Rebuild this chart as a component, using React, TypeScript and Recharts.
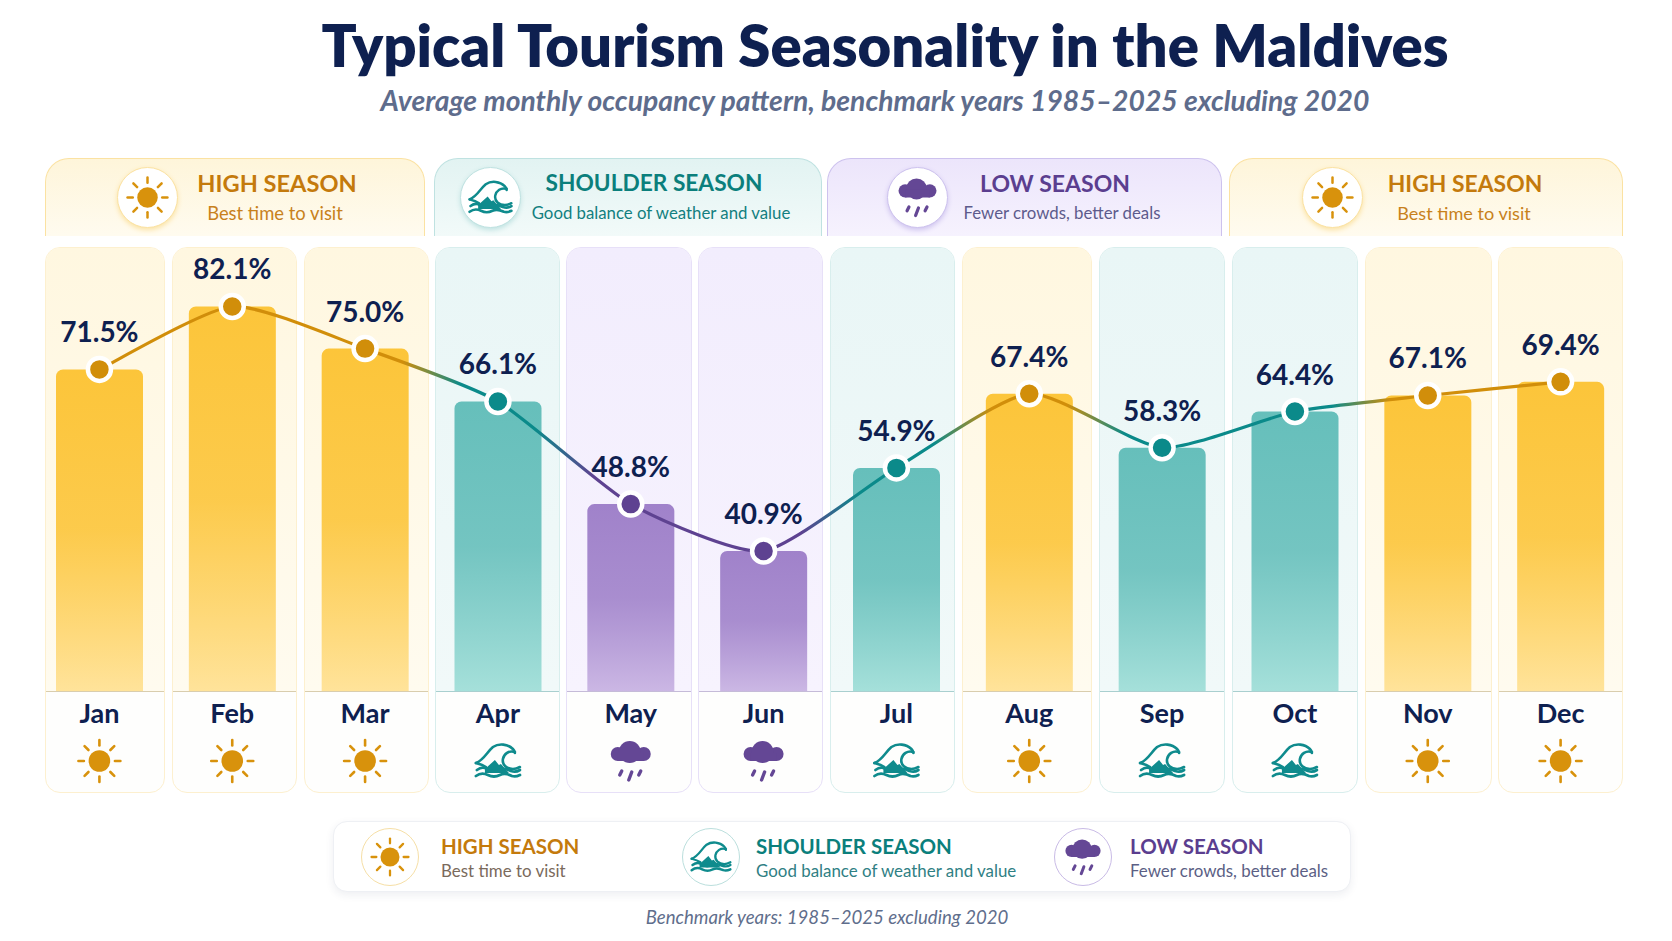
import { ComposedChart, Bar, Line, Cell, XAxis, YAxis, LabelList } from "recharts";

const months = ["Jan", "Feb", "Mar", "Apr", "May", "Jun", "Jul", "Aug", "Sep", "Oct", "Nov", "Dec"];
const occupancy = [71.5, 82.1, 75.0, 66.1, 48.8, 40.9, 54.9, 67.4, 58.3, 64.4, 67.1, 69.4];
const monthSeason = ["high", "high", "high", "shoulder", "low", "low", "shoulder", "high", "shoulder", "shoulder", "high", "high"];

const seasonTitles = { high: "HIGH SEASON", shoulder: "SHOULDER SEASON", low: "LOW SEASON" };
const seasonNotes = { high: "Best time to visit", shoulder: "Good balance of weather and value", low: "Fewer crowds, better deals" };

const chartData = months.map((month, i) => ({ month, occupancy: occupancy[i], season: monthSeason[i] }));

// palette per season
const theme: any = {
  high: { dot: "#D18E0A", icon: "#D8920C", title: "#C47A0C", note: "#C8811C", legendNote: "#7A6A5C", barTop: "#FCC53A", barBottom: "#FFE39A", bandTop: "#FEF5DA", bandBottom: "#FFFBEF", bandBorder: "#FBE2A2", cardTop: "#FFF7E0", cardBottom: "#FFFBEF", cardBorder: "#FDF0CF", baseline: "#D9CDAE", legendRing: "#F6DFA6" },
  shoulder: { dot: "#0B8A8A", icon: "#0F8B8D", title: "#0B7F7C", note: "#127F80", legendNote: "#2F8084", barTop: "#66BFBB", barBottom: "#A5E0DA", bandTop: "#E2F3F2", bandBottom: "#F2FAF9", bandBorder: "#BFE2E1", cardTop: "#E9F6F6", cardBottom: "#F1F9F9", cardBorder: "#D8EEED", baseline: "#A9CFCF", legendRing: "#BBDFDD" },
  low: { dot: "#5E4291", icon: "#644795", title: "#5B3E8F", note: "#5D5B8C", legendNote: "#5C5F85", barTop: "#A082CA", barBottom: "#CBB7E4", bandTop: "#ECE5FB", bandBottom: "#F6F2FE", bandBorder: "#CDC2EE", cardTop: "#F2EDFD", cardBottom: "#F7F3FE", cardBorder: "#E7E0F8", baseline: "#C5BBD8", legendRing: "#C9BBE6" },
};

// page layout, in px
const cardEdges = [[45, 165], [172, 297], [304, 429], [435, 560], [566, 692], [698, 823], [830, 955], [962, 1092], [1099, 1225], [1232, 1358], [1365, 1492], [1498, 1623]];
const bands = [
  { season: "high", left: 45, right: 425, icon: 147, titleX: 277, noteX: 275, titleSize: 23.6, noteSize: 18.4 },
  { season: "shoulder", left: 434, right: 822, icon: 490, titleX: 654, noteX: 661, titleSize: 22.7, noteSize: 16.8 },
  { season: "low", left: 827, right: 1222, icon: 917, titleX: 1055, noteX: 1062, titleSize: 23, noteSize: 16.8 },
  { season: "high", left: 1229, right: 1623, icon: 1332, titleX: 1465, noteX: 1464, titleSize: 22.9, noteSize: 18.1 },
];
const legendItems = [
  { season: "high", icon: 390, text: 441 },
  { season: "shoulder", icon: 711, text: 756 },
  { season: "low", icon: 1083, text: 1130 },
];

const font = "Lato, 'Noto Sans', sans-serif";
const PLOT_BOTTOM = 691;
const CARD_TOP = 247;
const CARD_BOTTOM = 793;

// a gentler curve than monotone: close to straight, only rounded near the points
const softCurve = (ctx: any) => {
  let pts: number[][] = [];
  return {
    areaStart() {},
    areaEnd() {},
    lineStart() {
      pts = [];
    },
    point(x: number, y: number) {
      pts.push([x, y]);
    },
    lineEnd() {
      const k = 0.1;
      ctx.moveTo(pts[0][0], pts[0][1]);
      for (let i = 0; i < pts.length - 1; i++) {
        const a = pts[Math.max(i - 1, 0)];
        const b = pts[i];
        const c = pts[i + 1];
        const d = pts[Math.min(i + 2, pts.length - 1)];
        ctx.bezierCurveTo(b[0] + (c[0] - a[0]) * k, b[1] + (c[1] - a[1]) * k, c[0] - (d[0] - b[0]) * k, c[1] - (d[1] - b[1]) * k, c[0], c[1]);
      }
    },
  };
};

const SeasonIcon = ({ season, x = 0, y = 0, scale = 1 }: any) => {
  const c = theme[season].icon;
  return (
    <g transform={`translate(${x},${y}) scale(${scale})`}>
      {season === "high" && (
        <>
          <circle r={10.8} fill={c} />
          {[0, 45, 90, 135, 180, 225, 270, 315].map((a) => (
            <line key={a} x1={0} y1={-15.5} x2={0} y2={-21} stroke={c} strokeWidth={2.6} strokeLinecap="round" transform={`rotate(${a})`} />
          ))}
        </>
      )}
      {season === "shoulder" && (
        <g fill="none" stroke={c} strokeLinecap="round">
          <path d="M-22,2 C-14,-1 -11,-9 -5,-14 C1,-18 10,-17 15,-12 C16,-11 17,-9 17,-8" strokeWidth={2.6} />
          <path d="M17,-9 C11,-11 6,-7 5,-2 C4,4 9,8 15,8 C18,8 20,7 22,6" strokeWidth={2.6} />
          <path d="M-22,2 C-18,3 -15,4 -12,6" strokeWidth={2.6} />
          <path d="M-13,8 L-3,-1 L1,4 L3,3 L11,12 L-13,12 Z" fill={c} stroke="none" />
          <path d="M-21,9 C-17,6 -14,6 -11,8 C-7,11 -3,11 1,9 C5,7 9,8 13,10 C16,11 19,11 22,9" strokeWidth={2.8} />
          <path d="M-22,15 C-18,12 -14,12 -10,14 C-6,16 -2,16 2,14 C6,12 10,13 14,15 C17,16 20,15 22,14" strokeWidth={2.8} />
        </g>
      )}
      {season === "low" && (
        <>
          <circle cx={-13} cy={-7} r={7} fill={c} />
          <circle cx={13} cy={-7} r={7} fill={c} />
          <circle cx={-1} cy={-9} r={11} fill={c} />
          <rect x={-13} y={-8} width={26} height={8} fill={c} />
          <line x1={-9} y1={10} x2={-11} y2={14} stroke={c} strokeWidth={3.4} strokeLinecap="round" />
          <line x1={1} y1={11} x2={-2} y2={19} stroke={c} strokeWidth={3.4} strokeLinecap="round" />
          <line x1={10} y1={10} x2={8} y2={14} stroke={c} strokeWidth={3.4} strokeLinecap="round" />
        </>
      )}
    </g>
  );
};

const IconDisc = ({ season, cx, cy, d, ring, scale = 1 }: any) => (
  <div style={{ position: "absolute", left: cx - d / 2, top: cy - d / 2, width: d, height: d, borderRadius: "50%", background: "#FFFFFF", boxSizing: "border-box", border: `${ring ? 1.5 : 1}px solid ${ring ? theme[season].legendRing : theme[season].bandBorder}`, boxShadow: ring ? "none" : `0 2px 5px ${theme[season].bandBorder}` }}>
    <svg width={d} height={d} style={{ position: "absolute", left: ring ? -1.5 : -1, top: ring ? -1.5 : -1 }}>
      <SeasonIcon season={season} x={d / 2} y={d / 2} scale={scale} />
    </svg>
  </div>
);

const MonthTick = ({ x, payload, index }: any) => (
  <g>
    <text x={x} y={PLOT_BOTTOM + 32} textAnchor="middle" fontFamily={font} fontSize={27} fontWeight={700} fill="#0E2050">{payload.value}</text>
    <SeasonIcon season={monthSeason[index]} x={x} y={PLOT_BOTTOM + 70} />
  </g>
);

const MonthDot = ({ cx, cy, index }: any) => (
  <circle key={index} cx={cx} cy={cy} r={11.5} fill={theme[monthSeason[index]].dot} stroke="#FFFFFF" strokeWidth={4.5} />
);

export default function App() {
  // colour holds around each month and only blends near the gap between two seasons
  const stops = months.flatMap((_, i) => [
    { offset: `${Math.max(0, ((i - 0.28) / 11) * 100)}%`, color: theme[monthSeason[i]].dot },
    { offset: `${Math.min(100, ((i + 0.28) / 11) * 100)}%`, color: theme[monthSeason[i]].dot },
  ]);
  return (
    <div style={{ position: "absolute", left: 0, top: 0, width: 1672, height: 941, background: "#FFFFFF", fontFamily: font, overflow: "hidden" }}>
      <div style={{ position: "absolute", left: 0, width: 1770, top: 7, textAlign: "center", fontSize: 58, fontWeight: 800, color: "#0E2050", lineHeight: "76px", whiteSpace: "nowrap" }}>
        Typical Tourism Seasonality in the Maldives
      </div>
      <div style={{ position: "absolute", left: 0, width: 1750, top: 83, textAlign: "center", fontSize: 28.3, fontWeight: 700, fontStyle: "italic", color: "#5E6C8C", lineHeight: "34px", whiteSpace: "nowrap" }}>
        Average monthly occupancy pattern, benchmark years 1985–2025 excluding 2020
      </div>

      {bands.map((b) => {
        const t = theme[b.season];
        return (
          <div key={b.left}>
            <div style={{ position: "absolute", left: b.left, top: 158, width: b.right - b.left, height: 78, boxSizing: "border-box", borderRadius: "24px 24px 0 0", background: `linear-gradient(${t.bandTop}, ${t.bandBottom})`, border: `1.5px solid ${t.bandBorder}`, borderBottom: "none" }} />
            <IconDisc season={b.season} cx={b.icon} cy={197} d={61} scale={0.95} />
            <div style={{ position: "absolute", left: b.titleX - 200, width: 400, top: 167, textAlign: "center", fontSize: b.titleSize, fontWeight: 700, color: t.title, lineHeight: "32px" }}>{seasonTitles[b.season]}</div>
            <div style={{ position: "absolute", left: b.noteX - 200, width: 400, top: 201, textAlign: "center", fontSize: b.noteSize, color: t.note, lineHeight: "24px" }}>{seasonNotes[b.season]}</div>
          </div>
        );
      })}

      {cardEdges.map(([l, r], i) => {
        const t = theme[monthSeason[i]];
        return (
          <div key={l} style={{ position: "absolute", left: l, top: CARD_TOP, width: r - l, height: CARD_BOTTOM - CARD_TOP, boxSizing: "border-box", borderRadius: 15, border: `1.5px solid ${t.cardBorder}`, background: "#FEFEFD", overflow: "hidden" }}>
            <div style={{ position: "absolute", left: 0, right: 0, top: 0, height: PLOT_BOTTOM - CARD_TOP - 1, background: `linear-gradient(${t.cardTop}, ${t.cardBottom})`, borderBottom: `1.5px solid ${t.baseline}` }} />
          </div>
        );
      })}

      <div style={{ position: "absolute", left: 0, top: 0 }}>
        <ComposedChart width={1672} height={941} data={chartData} margin={{ top: 243, right: 45, bottom: 140, left: 33 }}>
          <defs>
            {Object.keys(theme).map((s) => (
              <linearGradient key={s} id={`bar-${s}`} x1="0" y1="0" x2="0" y2="1">
                <stop offset="0%" stopColor={theme[s].barTop} />
                <stop offset="50%" stopColor={theme[s].barTop} stopOpacity={0.9} />
                <stop offset="100%" stopColor={theme[s].barBottom} />
              </linearGradient>
            ))}
            <linearGradient id="trend" x1="0" y1="0" x2="1" y2="0">
              {stops.map((s, i) => (
                <stop key={i} offset={s.offset} stopColor={s.color} />
              ))}
            </linearGradient>
          </defs>
          <XAxis dataKey="month" height={110} axisLine={false} tickLine={false} tick={MonthTick} interval={0} />
          <YAxis hide domain={[17.3, 92.8]} />
          <Bar dataKey="occupancy" barSize={87} radius={[7, 7, 0, 0]} isAnimationActive={false}>
            {chartData.map((d) => (
              <Cell key={d.month} fill={`url(#bar-${d.season})`} />
            ))}
          </Bar>
          <Line type={softCurve as any} dataKey="occupancy" stroke="url(#trend)" strokeWidth={3.2} dot={MonthDot} activeDot={false} isAnimationActive={false}>
            <LabelList dataKey="occupancy" position="top" offset={27} formatter={(v: number) => `${v.toFixed(1)}%`} style={{ fontFamily: font, fontSize: 28, fontWeight: 700, fill: "#0E2050" }} />
          </Line>
        </ComposedChart>
      </div>

      <div style={{ position: "absolute", left: 333, top: 821, width: 1018, height: 71, background: "#FFFFFF", borderRadius: 14, border: "1px solid #EEF0F4", boxSizing: "border-box", boxShadow: "0 3px 8px rgba(40,50,90,0.08)" }} />
      {legendItems.map((item) => (
        <div key={item.season}>
          <IconDisc season={item.season} cx={item.icon} cy={857} d={58} ring scale={0.88} />
          <div style={{ position: "absolute", left: item.text, top: 833, fontSize: 20.5, fontWeight: 700, color: theme[item.season].title, whiteSpace: "nowrap", lineHeight: "26px" }}>{seasonTitles[item.season]}</div>
          <div style={{ position: "absolute", left: item.text, top: 860, fontSize: 16.9, color: theme[item.season].legendNote, whiteSpace: "nowrap", lineHeight: "22px" }}>{seasonNotes[item.season]}</div>
        </div>
      ))}

      <div style={{ position: "absolute", left: 0, width: 1654, top: 905, textAlign: "center", fontSize: 18.6, fontStyle: "italic", color: "#5F6E8C", lineHeight: "24px" }}>
        Benchmark years: 1985–2025 excluding 2020
      </div>
    </div>
  );
}
